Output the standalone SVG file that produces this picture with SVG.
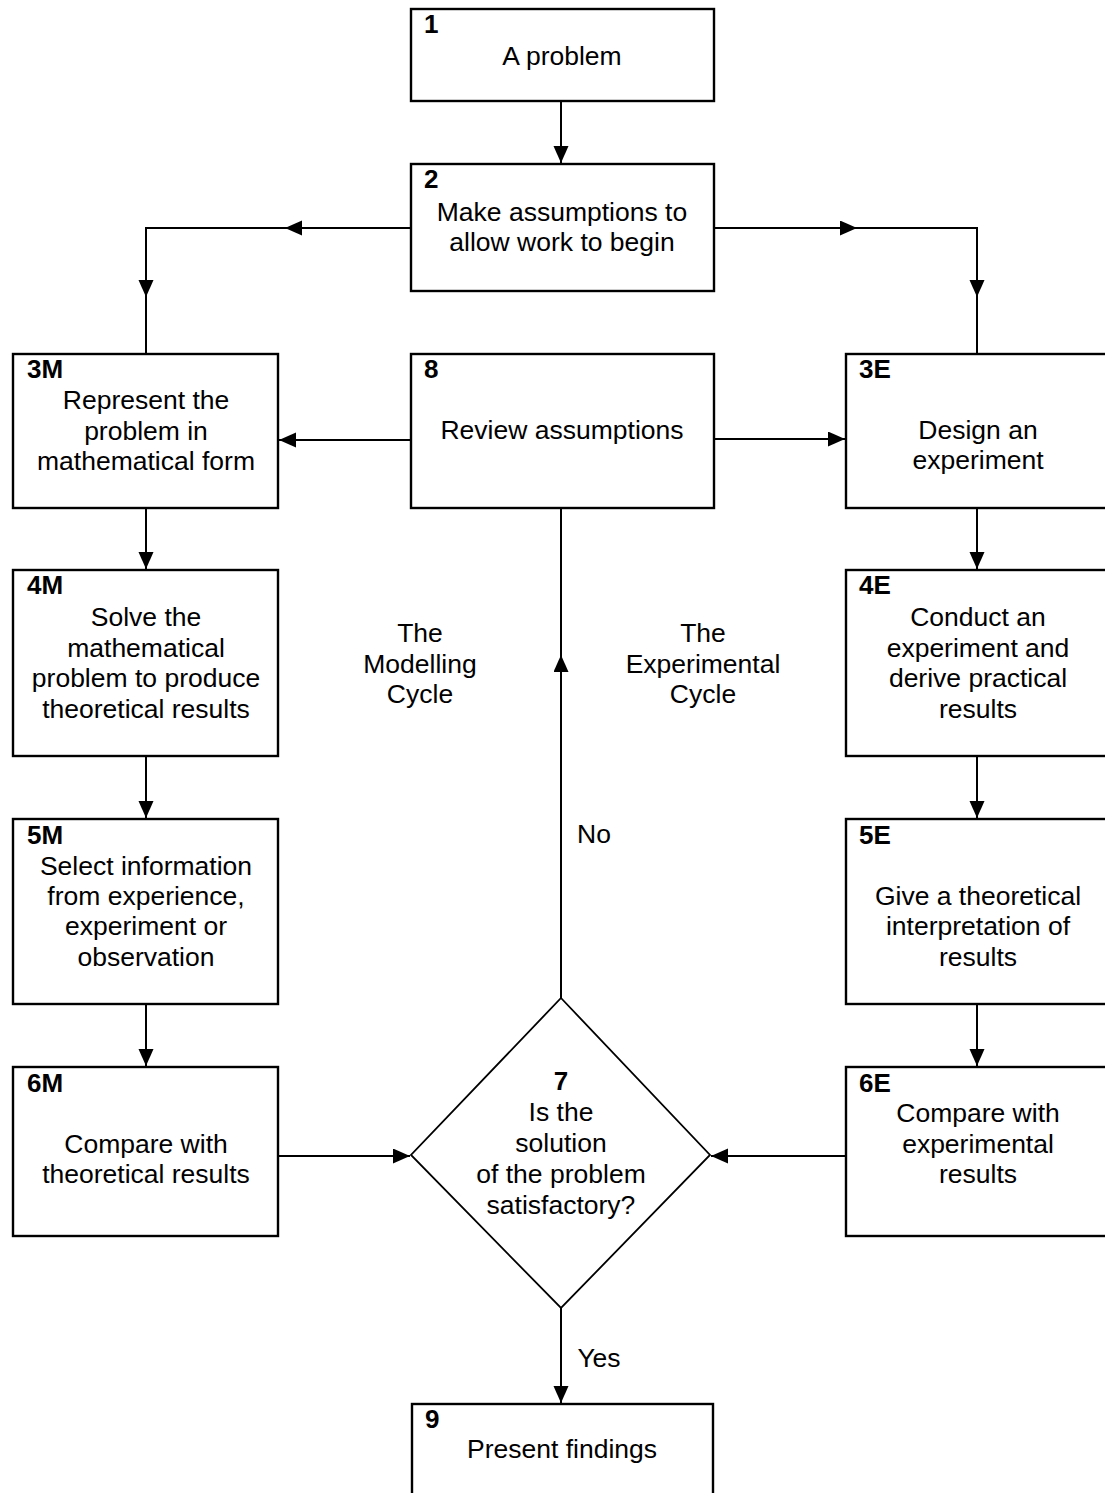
<svg xmlns="http://www.w3.org/2000/svg" width="1105" height="1493" viewBox="0 0 1105 1493">
<style>
.box{fill:#fff;stroke:#000;stroke-width:2.4}
.dia{fill:#fff;stroke:#000;stroke-width:1.8}
.c{fill:none;stroke:#000;stroke-width:2}
.t{font-family:"Liberation Sans",Arial,sans-serif;font-size:26.5px;fill:#000;text-anchor:middle}
.n{font-family:"Liberation Sans",Arial,sans-serif;font-size:26px;font-weight:bold;fill:#000}
</style>
<defs>
<marker id="ah" markerUnits="userSpaceOnUse" markerWidth="18" markerHeight="16" refX="17" refY="7.5" orient="auto" viewBox="0 0 18 16">
<path d="M0,0 L17,7.5 L0,15 z" fill="#000"/>
</marker>
</defs>
<rect width="1105" height="1493" fill="#fff"/>
<g id="connectors">
<path class="c" d="M561,101 V163" marker-end="url(#ah)"/>
<path class="c" d="M411,228 H285" marker-end="url(#ah)"/>
<path class="c" d="M285,228 H146 V297" marker-end="url(#ah)"/>
<path class="c" d="M146,297 V354"/>
<path class="c" d="M714,228 H857" marker-end="url(#ah)"/>
<path class="c" d="M857,228 H977 V297" marker-end="url(#ah)"/>
<path class="c" d="M977,297 V354"/>
<path class="c" d="M411,440 H279" marker-end="url(#ah)"/>
<path class="c" d="M712,439 H845" marker-end="url(#ah)"/>
<path class="c" d="M146,508 V569" marker-end="url(#ah)"/>
<path class="c" d="M977,508 V569" marker-end="url(#ah)"/>
<path class="c" d="M146,756 V818" marker-end="url(#ah)"/>
<path class="c" d="M977,756 V818" marker-end="url(#ah)"/>
<path class="c" d="M146,1004 V1066" marker-end="url(#ah)"/>
<path class="c" d="M977,1004 V1066" marker-end="url(#ah)"/>
<path class="c" d="M278,1156 H410" marker-end="url(#ah)"/>
<path class="c" d="M846,1156 H711" marker-end="url(#ah)"/>
<path class="c" d="M561,998 V655" marker-end="url(#ah)"/>
<path class="c" d="M561,655 V508"/>
<path class="c" d="M561,1308 V1403" marker-end="url(#ah)"/>
<text class="t" x="594" y="843">No</text>
<text class="t" x="599" y="1367">Yes</text>
</g>
<g id="n1">
<rect class="box" x="411" y="9" width="303" height="92"/>
<text class="n" x="424" y="33">1</text>
<text class="t" x="562" y="65">A problem</text>
</g>
<g id="n2">
<rect class="box" x="411" y="164" width="303" height="127"/>
<text class="n" x="424" y="188">2</text>
<text class="t" x="562" y="221">Make assumptions to</text>
<text class="t" x="562" y="251">allow work to begin</text>
</g>
<g id="n3M">
<rect class="box" x="13" y="354" width="265" height="154"/>
<text class="n" x="27" y="378">3M</text>
<text class="t" x="146" y="409">Represent the</text>
<text class="t" x="146" y="440">problem in</text>
<text class="t" x="146" y="470">mathematical form</text>
</g>
<g id="n8">
<rect class="box" x="411" y="354" width="303" height="154"/>
<text class="n" x="424" y="378">8</text>
<text class="t" x="562" y="439">Review assumptions</text>
</g>
<g id="n3E">
<rect class="box" x="846" y="354" width="264" height="154"/>
<text class="n" x="859" y="378">3E</text>
<text class="t" x="978" y="439">Design an</text>
<text class="t" x="978" y="469">experiment</text>
</g>
<g id="n4M">
<rect class="box" x="13" y="570" width="265" height="186"/>
<text class="n" x="27" y="594">4M</text>
<text class="t" x="146" y="626">Solve the</text>
<text class="t" x="146" y="657">mathematical</text>
<text class="t" x="146" y="687">problem to produce</text>
<text class="t" x="146" y="718">theoretical results</text>
</g>
<g id="n4E">
<rect class="box" x="846" y="570" width="264" height="186"/>
<text class="n" x="859" y="594">4E</text>
<text class="t" x="978" y="626">Conduct an</text>
<text class="t" x="978" y="657">experiment and</text>
<text class="t" x="978" y="687">derive practical</text>
<text class="t" x="978" y="718">results</text>
</g>
<g id="lblM">
<text class="t" x="420" y="642">The</text>
<text class="t" x="420" y="673">Modelling</text>
<text class="t" x="420" y="703">Cycle</text>
</g>
<g id="lblE">
<text class="t" x="703" y="642">The</text>
<text class="t" x="703" y="673">Experimental</text>
<text class="t" x="703" y="703">Cycle</text>
</g>
<g id="n5M">
<rect class="box" x="13" y="819" width="265" height="185"/>
<text class="n" x="27" y="844">5M</text>
<text class="t" x="146" y="875">Select information</text>
<text class="t" x="146" y="905">from experience,</text>
<text class="t" x="146" y="935">experiment or</text>
<text class="t" x="146" y="966">observation</text>
</g>
<g id="n5E">
<rect class="box" x="846" y="819" width="264" height="185"/>
<text class="n" x="859" y="844">5E</text>
<text class="t" x="978" y="905">Give a theoretical</text>
<text class="t" x="978" y="935">interpretation of</text>
<text class="t" x="978" y="966">results</text>
</g>
<g id="n6M">
<rect class="box" x="13" y="1067" width="265" height="169"/>
<text class="n" x="27" y="1092">6M</text>
<text class="t" x="146" y="1153">Compare with</text>
<text class="t" x="146" y="1183">theoretical results</text>
</g>
<g id="n6E">
<rect class="box" x="846" y="1067" width="264" height="169"/>
<text class="n" x="859" y="1092">6E</text>
<text class="t" x="978" y="1122">Compare with</text>
<text class="t" x="978" y="1153">experimental</text>
<text class="t" x="978" y="1183">results</text>
</g>
<g id="n7">
<polygon class="dia" points="561,998 710,1155 561,1308 411,1155"/>
<text class="n" x="561" y="1090" text-anchor="middle">7</text>
<text class="t" x="561" y="1121">Is the</text>
<text class="t" x="561" y="1152">solution</text>
<text class="t" x="561" y="1183">of the problem</text>
<text class="t" x="561" y="1214">satisfactory?</text>
</g>
<g id="n9">
<rect class="box" x="412" y="1404" width="301" height="100"/>
<text class="n" x="425" y="1428">9</text>
<text class="t" x="562" y="1458">Present findings</text>
</g>
</svg>
